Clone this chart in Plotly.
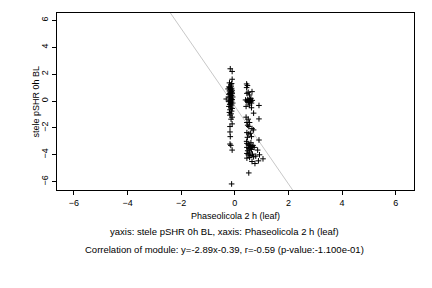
import plotly.graph_objects as go

# Cluster data (x: Phaseolicola 2 h (leaf), y: stele pSHR 0h BL)
x_vals = [
    -0.17, -0.10, -0.10, -0.20, -0.12, -0.15, -0.22, -0.18, -0.12, -0.25,
    -0.15, -0.10, -0.20, -0.13, -0.17, -0.10, -0.22, -0.15, -0.12, -0.18,
    -0.08, -0.20, -0.14, -0.32, -0.10, -0.18, -0.12, -0.22, -0.15, -0.08,
    -0.19, -0.12, -0.22, -0.15, -0.10, -0.18, -0.12, -0.20, -0.14, -0.18,
    -0.10, -0.14, -0.10, -0.18, -0.18, -0.17, -0.18, -0.15, -0.10, -0.12,
    -0.14, -0.16, -0.11, -0.19, -0.13, -0.16, -0.17,
    0.44, 0.47, 0.44, 0.64, 0.50, 0.45, 0.55, 0.60, 0.40, 0.50,
    0.55, 0.45, 0.60, 0.52, 0.65, 0.48, 0.58, 0.90, 0.42, 0.62,
    0.55, 0.70, 0.90, 0.42, 0.50, 0.45, 0.48, 0.52, 0.64, 0.70,
    0.45, 0.52, 0.58, 0.62, 0.90, 0.45, 0.50, 0.55, 0.60, 0.65,
    0.45, 0.52, 0.58, 0.68, 0.62, 0.48, 0.55, 0.85, 0.45, 0.50,
    0.60, 0.92, 0.78, 0.70, 0.45, 0.55, 1.05, 0.88, 0.64, 0.75,
    0.52, 0.60, 0.72, 0.47, 0.55, 0.50, 0.62, 0.44, 0.66,
]
y_vals = [
    2.40, 2.20, 1.62, 1.35, 1.30, 1.20, 1.05, 1.00, 0.95, 0.90,
    0.85, 0.80, 0.75, 0.70, 0.62, 0.55, 0.50, 0.45, 0.40, 0.35,
    0.30, 0.25, 0.20, 0.15, 0.12, 0.05, 0.00, -0.05, -0.10, -0.15,
    -0.25, -0.30, -0.40, -0.45, -0.55, -0.65, -0.75, -0.85, -0.95, -1.05,
    -1.20, -1.35, -1.70, -1.90, -2.30, -2.65, -3.20, -3.30, -3.65, -6.17,
    1.10, 0.90, 0.65, 0.55, 0.10, -0.20, 0.00,
    1.27, 1.15, 1.00, 0.70, 0.65, 0.57, 0.45, 0.20, 0.08, 0.05,
    0.02, 0.00, -0.02, -0.05, 0.05, 0.12, 0.10, -0.33, -0.40, -0.50,
    -0.30, -0.90, -1.33, -1.20, -1.35, -1.60, -1.80, -1.90, -2.05, -2.15,
    -2.35, -2.45, -2.40, -2.65, -2.90, -3.15, -3.25, -3.30, -3.35, -3.40,
    -3.45, -3.55, -3.50, -3.30, -3.60, -3.70, -3.80, -3.65, -3.90, -4.00,
    -4.05, -4.00, -4.10, -4.15, -4.25, -4.20, -4.30, -4.45, -4.50, -4.65,
    -5.35, -3.10, -3.45, -2.70, -1.60, -0.10, -0.15, -3.00, -3.95,
]

slope = -2.89
intercept = -0.39
x_range = [-6.63, 6.68]
y_range = [-6.62, 6.55]
tick_vals = [-6, -4, -2, 0, 2, 4, 6]

x_title = "Phaseolicola 2 h (leaf)"
y_title = "stele pSHR 0h BL"
sub1 = "yaxis: stele pSHR 0h BL, xaxis: Phaseolicola 2 h (leaf)"
sub2 = "Correlation of module: y=-2.89x-0.39, r=-0.59 (p-value:-1.100e-01)"

FONT = "Liberation Sans, Arial, sans-serif"

fig = go.Figure()
line_x = [x_range[0], x_range[1]]
line_y = [slope * v + intercept for v in line_x]
fig.add_trace(go.Scatter(x=line_x, y=line_y, mode="lines",
                         line=dict(color="#c8c8c8", width=1), hoverinfo="skip"))
fig.add_trace(go.Scatter(x=x_vals, y=y_vals, mode="markers",
                         marker=dict(symbol="cross-thin", size=4, color="black",
                                     line=dict(color="black", width=1))))

L, R, T, B = 57, 18, 13, 98
W, H = 432, 288
ph = H - T - B

def py(p):
    return (H - B - p) / ph

def px(p):
    return (p - L) / (W - L - R)

fig.update_layout(
    width=W, height=H, showlegend=False,
    margin=dict(l=L, r=R, t=T, b=B),
    paper_bgcolor="white", plot_bgcolor="white",
    font=dict(family=FONT, size=9, color="black"),
    xaxis=dict(range=x_range, tickvals=tick_vals, showgrid=False, zeroline=False,
               showline=True, mirror=True, linecolor="black", linewidth=1,
               ticks="outside", ticklen=4, tickcolor="black",
               tickfont=dict(size=9, family=FONT, color="black")),
    yaxis=dict(range=y_range, tickvals=tick_vals, showgrid=False, zeroline=False,
               showline=True, mirror=True, linecolor="black", linewidth=1,
               ticks="outside", ticklen=4, tickcolor="black", tickangle=-90,
               tickfont=dict(size=9, family=FONT, color="black")),
    annotations=[
        dict(text=x_title, x=px(235), y=py(216), xref="paper", yref="paper",
             showarrow=False, xanchor="center", yanchor="middle",
             font=dict(size=9, family=FONT, color="black")),
        dict(text=y_title, x=px(35), y=py(101.5), xref="paper", yref="paper",
             showarrow=False, xanchor="center", yanchor="middle", textangle=-90,
             font=dict(size=9, family=FONT, color="black")),
        dict(text=sub1, x=px(224), y=py(231), xref="paper", yref="paper",
             showarrow=False, xanchor="center", yanchor="middle",
             font=dict(size=9.5, family=FONT, color="black")),
        dict(text=sub2, x=px(224), y=py(249), xref="paper", yref="paper",
             showarrow=False, xanchor="center", yanchor="middle",
             font=dict(size=9.5, family=FONT, color="black")),
    ],
)

fig.write_html("out.html")
